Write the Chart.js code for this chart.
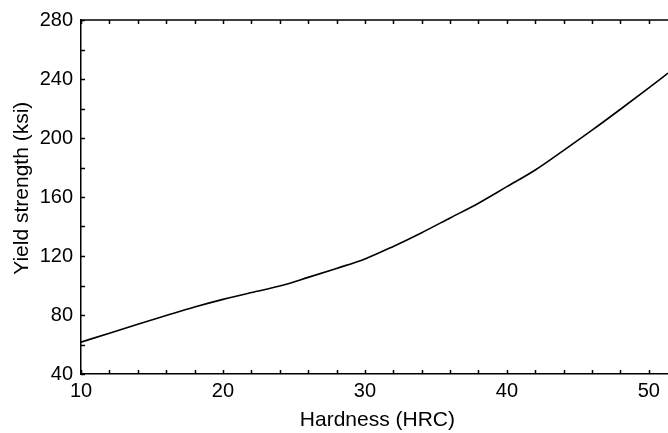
<!DOCTYPE html>
<html>
<head>
<meta charset="utf-8">
<script src="https://cdn.jsdelivr.net/npm/chart.js@4"></script>
<style>
  html, body { margin: 0; padding: 0; background: #fff; }
  #wrap { width: 668px; height: 433px; }
</style>
</head>
<body>
<div id="wrap"><canvas id="chart"></canvas></div>
<script>
// Data
const hardness = [10, 12, 14, 16, 18, 20, 22, 24, 26, 28, 30, 32, 34, 36, 38, 40, 42, 44, 46, 48, 50, 51.35];
const yieldStrength = [61.6, 67.7, 73.7, 79.6, 85.4, 90.6, 95.2, 99.6, 105.5, 111.6, 118, 126.5, 135.8, 145.8, 155.8, 167, 178.3, 191.6, 205.3, 219.5, 234, 244];
const xTicks = [10, 20, 30, 40, 50];
const yTicks = [40, 80, 120, 160, 200, 240, 280];
const xMinorStep = 2;
const yMinorStep = 20;

const FONT = 'Liberation Sans, Arial, Helvetica, sans-serif';

// Inward tick marks on left, bottom and top edges, plus top frame line
const innerTicks = {
  id: 'innerTicks',
  afterDraw(chart) {
    const { ctx, chartArea: a, scales: { x, y } } = chart;
    const len = 4;
    ctx.save();
    ctx.strokeStyle = '#000';
    ctx.lineWidth = 1.5;
    ctx.beginPath();
    ctx.moveTo(a.left, a.top);
    ctx.lineTo(a.right, a.top);
    for (let v = x.min; v <= x.max + 1e-9; v += xMinorStep) {
      const px = Math.round(x.getPixelForValue(v)) + 0.5;
      ctx.moveTo(px, a.bottom);
      ctx.lineTo(px, a.bottom - len);
      ctx.moveTo(px, a.top);
      ctx.lineTo(px, a.top + len);
    }
    for (let v = y.min; v <= y.max + 1e-9; v += yMinorStep) {
      const py = Math.round(y.getPixelForValue(v)) + 0.5;
      ctx.moveTo(a.left, py);
      ctx.lineTo(a.left + len, py);
    }
    ctx.stroke();
    ctx.restore();
  }
};

new Chart(document.getElementById('chart'), {
  type: 'line',
  data: {
    datasets: [{
      data: hardness.map((h, i) => ({ x: h, y: yieldStrength[i] })),
      borderColor: '#000',
      borderWidth: 1.6,
      pointRadius: 0,
      cubicInterpolationMode: 'monotone',
      fill: false
    }]
  },
  options: {
    responsive: true,
    maintainAspectRatio: false,
    animation: false,
    layout: { padding: { top: 16, right: 0, left: 0, bottom: 0 } },
    plugins: { legend: { display: false }, tooltip: { enabled: false } },
    scales: {
      x: {
        type: 'linear',
        min: 10,
        max: 51.35,
        afterBuildTicks: axis => { axis.ticks = xTicks.map(v => ({ value: v })); },
        afterFit: scale => { scale.height = 59; },
        grid: { display: false, drawTicks: false },
        border: { display: true, color: '#000', width: 1.5 },
        ticks: { color: '#000', padding: 5, maxRotation: 0, font: { family: FONT, size: 20 } },
        title: {
          display: true,
          text: ' Hardness (HRC)',
          color: '#000',
          font: { family: FONT, size: 21 },
          padding: { top: 0, bottom: 0 }
        }
      },
      y: {
        min: 40,
        max: 280,
        afterBuildTicks: axis => { axis.ticks = yTicks.map(v => ({ value: v })); },
        afterFit: scale => { scale.width = 81; },
        grid: { display: false, drawTicks: false },
        border: { display: true, color: '#000', width: 1.5 },
        ticks: { color: '#000', padding: 8, font: { family: FONT, size: 20 } },
        title: {
          display: true,
          text: '   Yield strength (ksi)',
          color: '#000',
          font: { family: FONT, size: 21 },
          padding: { top: 10, bottom: 0 }
        }
      }
    }
  },
  plugins: [innerTicks]
});
</script>
</body>
</html>
